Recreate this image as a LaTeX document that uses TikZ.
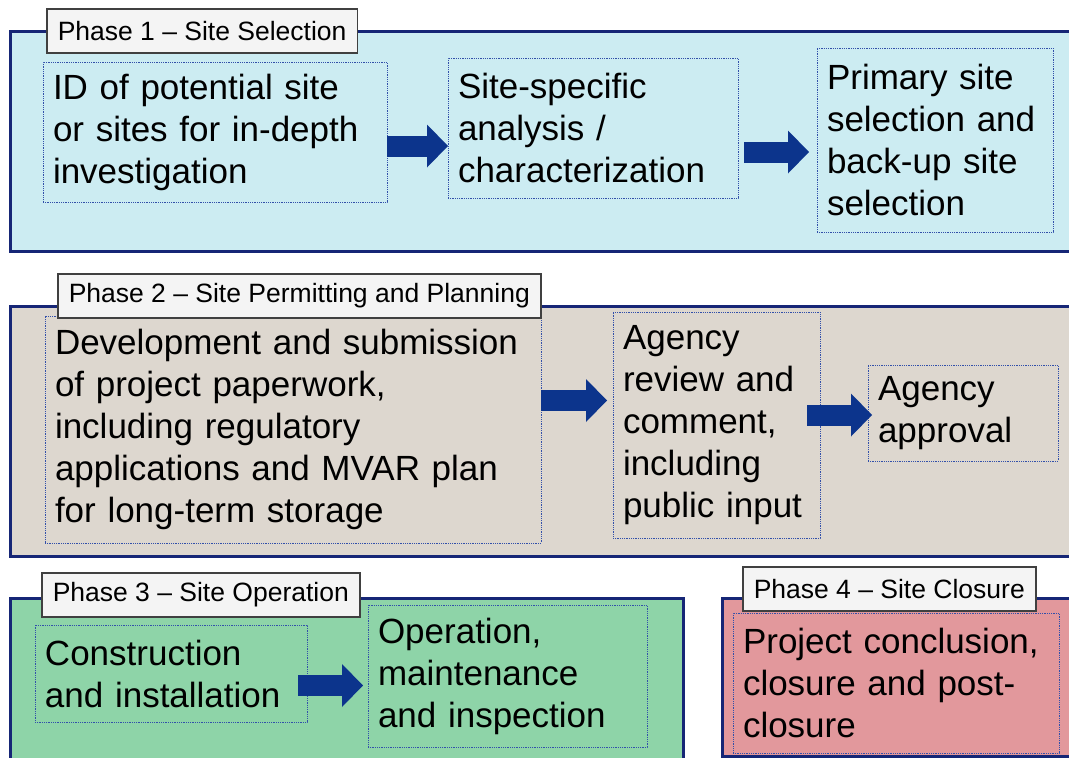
\documentclass[tikz,border=0pt]{standalone}
\usepackage{fontspec}
\setmainfont{Liberation Sans}
\usetikzlibrary{arrows.meta}

\definecolor{framenavy}{RGB}{22,38,118}
\definecolor{arrowblue}{RGB}{12,52,140}
\definecolor{dotblue}{RGB}{50,80,170}
\definecolor{phaseone}{RGB}{204,236,242}
\definecolor{phasetwo}{RGB}{221,215,207}
\definecolor{phasethree}{RGB}{142,212,168}
\definecolor{phasefour}{RGB}{226,152,156}
\definecolor{tabgray}{RGB}{244,244,244}

\begin{document}
\begin{tikzpicture}[x=1pt,y=-1pt,
    panel/.style={draw=framenavy,line width=3pt},
    phasetab/.style={draw=black!75,line width=1.5pt,fill=tabgray,anchor=north west,
        minimum height=44pt,inner xsep=11pt,inner ysep=0pt,font=\fontsize{26.5}{30}\selectfont},
    stepbox/.style={draw=dotblue,densely dotted,line width=0.8pt,anchor=north west,align=left,
        inner xsep=10pt,inner ysep=0pt,outer sep=0pt,font=\fontsize{35}{42}\selectfont},
    bigarrow/.style={draw=arrowblue,line width=21pt,-{Triangle[length=21pt,width=43pt,line width=0pt]}}]
    \useasboundingbox (0,0) rectangle (1069,758);
    \clip (0,0) rectangle (1069,758);

    % phase panels
    \draw[panel,fill=phaseone] (10,31) rectangle (1080,251);
    \draw[panel,fill=phasetwo] (10,306) rectangle (1080,556);
    \draw[panel,fill=phasethree] (10,598) rectangle (683,770);
    \draw[panel,fill=phasefour] (722,598) rectangle (1080,756);

    % steps
    \node[stepbox,text width=324pt,minimum height=140pt] (idsite) at (43,62) {ID of potential site\\or sites for in-depth\\investigation};
    \node[stepbox,text width=270pt,minimum height=140pt] (analysis) at (448,58) {Site-specific\\analysis /\\characterization};
    \node[stepbox,text width=216pt,minimum height=184pt] (primary) at (817,48) {Primary site\\selection and\\back-up site\\selection};
    \node[stepbox,text width=476pt,minimum height=227pt] (paperwork) at (45,316) {Development and submission\\of project paperwork,\\including regulatory\\applications and MVAR plan\\for long-term storage};
    \node[stepbox,text width=187pt,minimum height=226pt] (review) at (613,312) {Agency\\review and\\comment,\\including\\public input};
    \node[stepbox,text width=170pt,minimum height=96pt] (approval) at (868,365) {Agency\\approval};
    \node[stepbox,text width=252pt,minimum height=97pt] (construct) at (35,625) {Construction\\and installation};
    \node[stepbox,text width=259pt,minimum height=142pt] (operate) at (368,605) {Operation,\\maintenance\\and inspection};
    \node[stepbox,text width=306pt,minimum height=140pt] (closure) at (733,613) {Project conclusion,\\closure and post-\\closure};

    % phase tabs
    \node[phasetab] (tabone) at (46,8) {Phase 1 -- Site Selection};
    \node[phasetab] (tabtwo) at (57,273) {Phase 2 -- Site Permitting and Planning};
    \node[phasetab] (tabthree) at (41,572) {Phase 3 -- Site Operation};
    \node[phasetab] (tabfour) at (742,566) {Phase 4 -- Site Closure};

    % block arrows
    \coordinate (a1) at ([yshift=-14pt]idsite.east);
    \draw[bigarrow] (a1) -- (analysis.west |- a1);
    \coordinate (a2) at ([xshift=6pt,yshift=-24pt]analysis.east);
    \draw[bigarrow,shorten >=8pt] (a2) -- (primary.west |- a2);
    \coordinate (a3) at ([yshift=29pt]paperwork.east);
    \draw[bigarrow,shorten >=6pt] (a3) -- (review.west |- a3);
    \coordinate (a4) at ([xshift=-13pt,yshift=10pt]review.east);
    \draw[bigarrow,shorten >=-4pt] (a4) -- (approval.west |- a4);
    \coordinate (a5) at ([xshift=-9pt,yshift=-12pt]construct.east);
    \draw[bigarrow,shorten >=5pt] (a5) -- (operate.west |- a5);
\end{tikzpicture}
\end{document}
